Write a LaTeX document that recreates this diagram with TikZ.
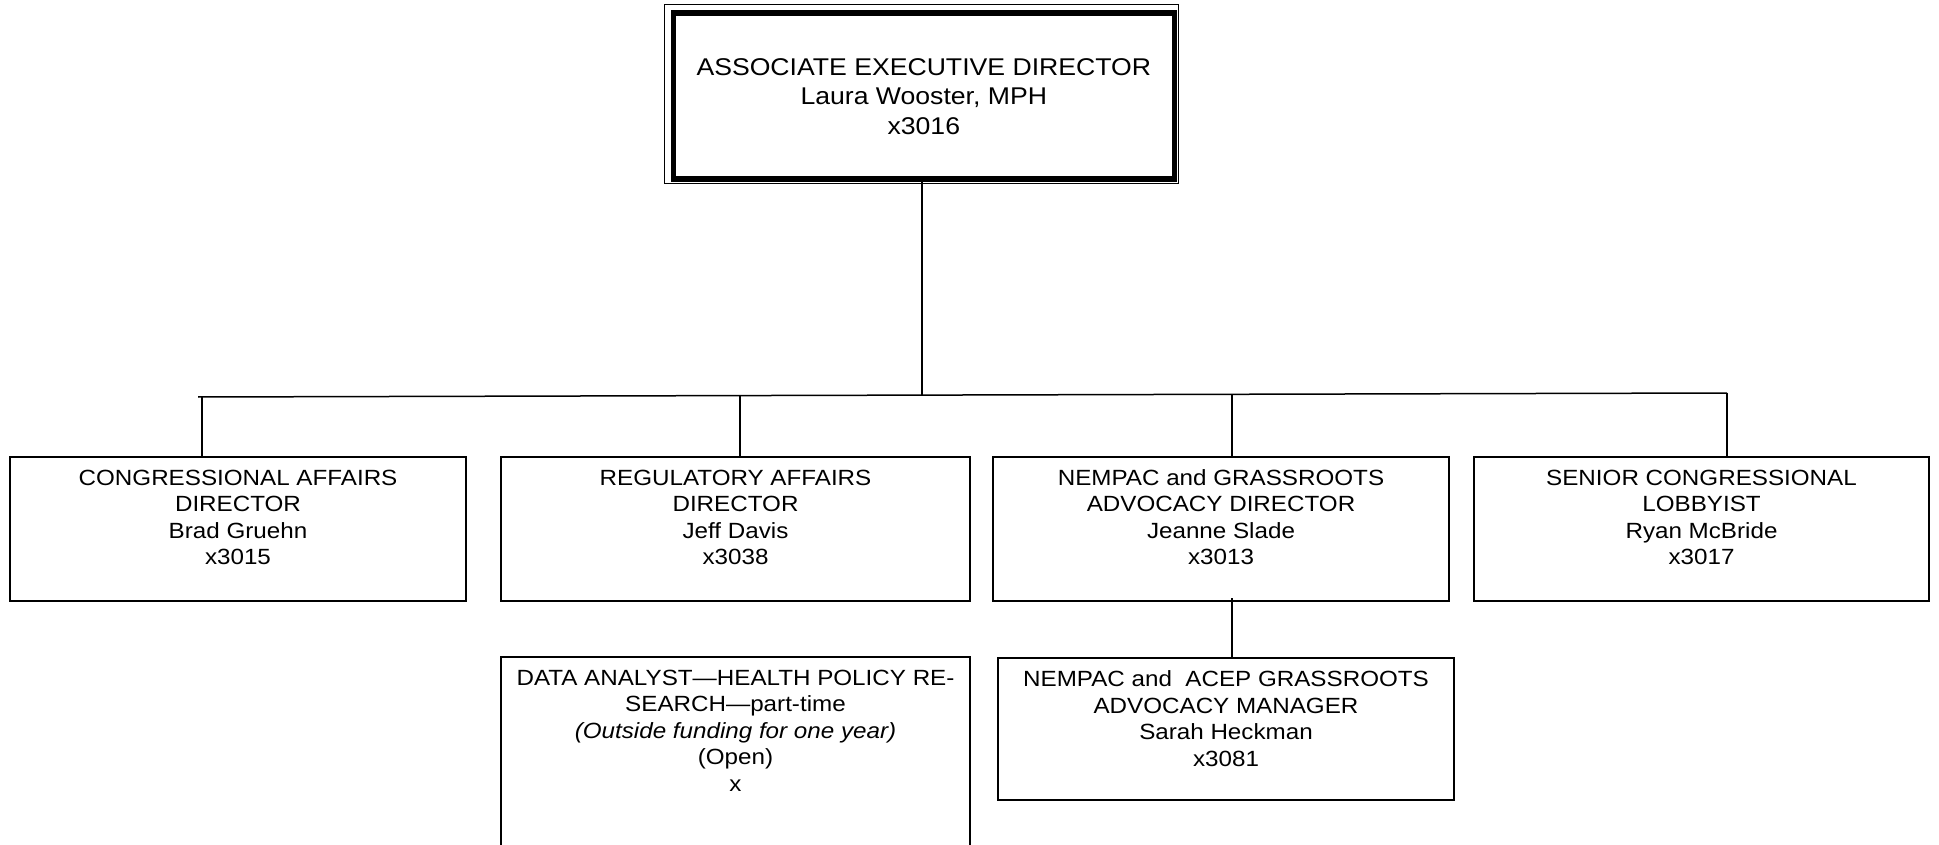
\documentclass[tikz,border=0pt]{standalone}
\usepackage{fontspec}
\setmainfont{Liberation Sans}[FakeStretch=1.1]
\begin{document}
\begin{tikzpicture}[x=0.5pt,y=-0.5pt,
  boxline/.style={draw=black, line width=1.1pt, inner sep=0pt, outer sep=0pt},
  conn/.style={draw=black, line width=0.75pt}]
\useasboundingbox (0,0) rectangle (1939,845);
\newcommand{\bx}[4]{\parbox[t][#2][t]{#1}{\centering\fontsize{11pt}{13.3pt}\selectfont\rule{0pt}{#3}#4\par}}
% top box
\node[draw=black, line width=0.6pt, minimum width=257pt, minimum height=89.5pt, anchor=north west, inner sep=0pt] (topout) at (664,4) {};
\node[draw=black, line width=2.8pt, minimum width=250.5pt, minimum height=83pt, anchor=north west, inner sep=0pt,
  align=center, font=\fontsize{12.1pt}{14.8pt}\selectfont] (top) at (670.5,10.5)
  {ASSOCIATE EXECUTIVE DIRECTOR\\Laura Wooster, MPH\\x3016};
% level 2
\node[boxline, anchor=north west] (b1) at (10,457) {\bx{228pt}{72pt}{14pt}{CONGRESSIONAL AFFAIRS\\DIRECTOR\\Brad Gruehn\\x3015}};
\node[boxline, anchor=north west] (b2) at (501,457) {\bx{234.5pt}{72pt}{14pt}{REGULATORY AFFAIRS\\DIRECTOR\\Jeff Davis\\x3038}};
\node[boxline, anchor=north west] (b3) at (993,457) {\bx{228pt}{72pt}{14pt}{NEMPAC and GRASSROOTS\\ADVOCACY DIRECTOR\\Jeanne Slade\\x3013}};
\node[boxline, anchor=north west] (b4) at (1474,457) {\bx{227.5pt}{72pt}{14pt}{SENIOR CONGRESSIONAL\\LOBBYIST\\Ryan McBride\\x3017}};
% level 3
\node[boxline, anchor=north west] (d1) at (501,657) {\bx{234.5pt}{100pt}{14pt}{DATA ANALYST\textemdash HEALTH POLICY RE-\\SEARCH\textemdash part-time\\\textit{(Outside funding for one year)}\\(Open)\\x}};
\node[boxline, anchor=north west] (m1) at (998,658) {\bx{228pt}{71pt}{14.3pt}{NEMPAC and\ \ ACEP GRASSROOTS\\ADVOCACY MANAGER\\Sarah Heckman\\x3081}};
% connectors
\coordinate (busL) at (198,397);
\coordinate (busR) at (1727,393);
\coordinate (busM) at (922,395);
\draw[conn] (top.south -| busM) -- (busM);
\draw[conn] (busL) -- (busR);
\draw[conn] (202,397) -- (b1.north -| 202,0);
\draw[conn] (740,396) -- (b2.north -| 740,0);
\draw[conn] (1232,394) -- (b3.north -| 1232,0);
\draw[conn] (busR) -- (b4.north -| busR);
\draw[conn] (1232,598) -- (m1.north -| 1232,0);
\end{tikzpicture}
\end{document}
